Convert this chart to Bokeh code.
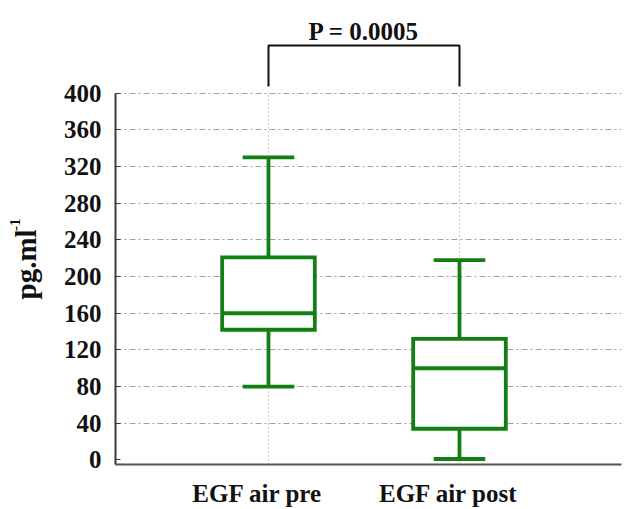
import numpy as np
from bokeh.plotting import figure
from bokeh.models import Range1d, FixedTicker, LinearAxis, Grid, Label
from bokeh.layouts import row
from bokeh.core.properties import value
from bokeh.embed import file_html
from bokeh.resources import INLINE

# ---- data ----
categories = ["EGF air pre", "EGF air post"]
whisker_low = [80, 1]
q1 = [142, 34]
median = [160, 100]
q3 = [221, 132]
whisker_high = [330, 218]
y_ticks = [0, 40, 80, 120, 160, 200, 240, 280, 320, 360, 400]
p_value_text = "P = 0.0005"
y_label = "pg.ml"
y_label_sup = "-1"

# ---- layout ----
W, H = 626, 509
SIDE_W = 50                      # narrow panel holding the rotated y label
LEFT, RIGHT, TOP, BOTTOM = 115, 5, 5, 45
MAIN_W = W - SIDE_W
X_START = 0.199
X_END = X_START + (W - LEFT - RIGHT) / 191.0
Y_START = -5
PX_PER_UNIT = 0.9167
Y_END = Y_START + (H - TOP - BOTTOM) / PX_PER_UNIT

def py_to_y(py):
    return Y_START + (H - BOTTOM - py) / PX_PER_UNIT

GREEN = "#137f13"
FONT = "Liberation Serif"
TXT = "#111111"

# ---- side panel with y-axis title ----
side = figure(width=SIDE_W, height=H, output_backend="svg", toolbar_location=None,
              x_range=Range1d(0, SIDE_W), y_range=Range1d(0, H),
              min_border=0, x_axis_type=None, y_axis_type=None)
side.outline_line_color = None
side.xgrid.grid_line_color = None
side.ygrid.grid_line_color = None
side.text(x=[25.5], y=[H - 326], text=[y_label], angle=np.pi / 2,
          text_align="left", text_baseline="alphabetic",
          text_font=value(FONT), text_font_style="bold", text_font_size="29px",
          text_color=TXT)
side.text(x=[14.5], y=[H - 250], text=[y_label_sup], angle=np.pi / 2,
          text_align="left", text_baseline="alphabetic",
          text_font=value(FONT), text_font_style="bold", text_font_size="15px",
          text_color=TXT)

# ---- main plot ----
p = figure(width=MAIN_W, height=H, output_backend="svg", toolbar_location=None,
           x_range=Range1d(X_START, X_END), y_range=Range1d(Y_START, Y_END),
           min_border_left=LEFT - SIDE_W, min_border_right=RIGHT,
           min_border_top=TOP, min_border_bottom=BOTTOM,
           x_axis_type=None, y_axis_type=None)
p.outline_line_color = None
p.background_fill_color = "white"
p.border_fill_color = "white"

xs = np.arange(1, len(categories) + 1)

yaxis = LinearAxis(ticker=FixedTicker(ticks=y_ticks), bounds=(Y_START, 400))
yaxis.axis_line_color = "#3a3a3a"
yaxis.axis_line_width = 2
yaxis.major_tick_in = 5
yaxis.major_tick_out = 0
yaxis.major_tick_line_color = "#3a3a3a"
yaxis.minor_tick_line_color = None
yaxis.major_label_standoff = 14
yaxis.major_label_text_font = FONT
yaxis.major_label_text_font_style = "bold"
yaxis.major_label_text_font_size = "25px"
yaxis.major_label_text_color = TXT
p.add_layout(yaxis, "left")

# category labels sit slightly left of the box centres in the original
label_pos = [float(round(x - 0.058, 3)) for x in xs]
xaxis = LinearAxis(ticker=FixedTicker(ticks=label_pos),
                   major_label_overrides={lp: c for lp, c in zip(label_pos, categories)})
xaxis.axis_line_color = "#555555"
xaxis.axis_line_width = 2
xaxis.major_tick_in = 0
xaxis.major_tick_out = 0
xaxis.minor_tick_line_color = None
xaxis.major_label_standoff = 15
xaxis.major_label_text_font = FONT
xaxis.major_label_text_font_style = "bold"
xaxis.major_label_text_font_size = "25px"
xaxis.major_label_text_color = TXT
p.add_layout(xaxis, "below")

# horizontal dash-dot grid
p.add_layout(Grid(dimension=1, ticker=FixedTicker(ticks=[t for t in y_ticks if t > 0]),
                  grid_line_color="#a0a0a0", grid_line_dash="6 3 2 3",
                  grid_line_width=1))

# vertical dotted guide lines at categories (0..400)
p.segment(x0=xs, y0=[Y_START] * len(xs), x1=xs, y1=[400] * len(xs),
          line_color="#a0a0a0", line_dash="1 3", line_width=1)

# box plots
BOX_W = 0.485
CAP_W = 0.27
LW = 3.8
p.vbar(x=xs, width=BOX_W, bottom=q1, top=q3, fill_color="white",
       line_color=GREEN, line_width=LW, line_join="miter")
p.segment(x0=xs - BOX_W / 2, y0=median, x1=xs + BOX_W / 2, y1=median,
          line_color=GREEN, line_width=LW)
p.segment(x0=xs, y0=q3, x1=xs, y1=whisker_high, line_color=GREEN, line_width=LW)
p.segment(x0=xs, y0=q1, x1=xs, y1=whisker_low, line_color=GREEN, line_width=LW)
p.segment(x0=xs - CAP_W / 2, y0=whisker_high, x1=xs + CAP_W / 2, y1=whisker_high,
          line_color=GREEN, line_width=LW)
p.segment(x0=xs - CAP_W / 2, y0=whisker_low, x1=xs + CAP_W / 2, y1=whisker_low,
          line_color=GREEN, line_width=LW)

# significance bracket
br_low, br_high = py_to_y(86), py_to_y(45)
p.line(x=[xs[0], xs[0], xs[1], xs[1]], y=[br_low, br_high, br_high, br_low],
       line_color=TXT, line_width=2)
p.add_layout(Label(x=(xs[0] + xs[1]) / 2, y=py_to_y(31), text=p_value_text,
                   text_align="center", text_baseline="alphabetic",
                   text_font=FONT, text_font_style="bold", text_font_size="25px",
                   text_color=TXT))

layout = row(side, p, spacing=0)
open("out.html", "w").write(file_html(layout, INLINE))
